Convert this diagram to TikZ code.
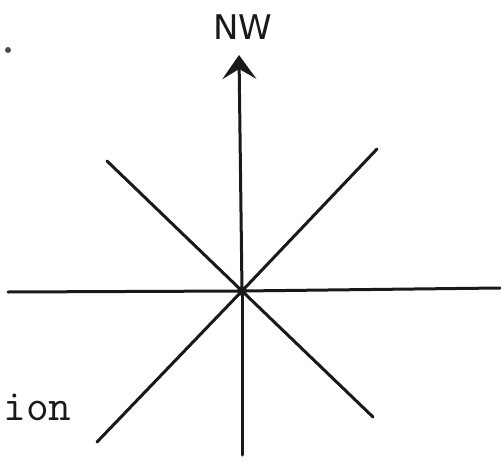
\documentclass[tikz,border=0pt]{standalone}
\usepackage{fontspec}
\setsansfont{DejaVu Sans}
\usetikzlibrary{arrows.meta, positioning}

\begin{document}
\begin{tikzpicture}[x=0.5pt, y=-0.5pt, every node/.style={inner sep=0pt}]
    \tikzset{ray/.style={line width=1.5pt, black!90, line cap=round},
             hand/.style={font=\sffamily\fontsize{17}{17}\selectfont, black!90},
             typed/.style={font=\ttfamily\fontsize{22}{22}\selectfont, black!90}}
    \useasboundingbox (0,0) rectangle (501,464);
    \coordinate (c) at (242,291);
    \coordinate (n) at (239,55);
    \coordinate (s) at (242,455);
    \coordinate (w) at (8,292);
    \coordinate (e) at (500,288);
    \coordinate (nw) at (107,161);
    \coordinate (se) at (373,417);
    \coordinate (ne) at (377,149);
    \coordinate (sw) at (97,442);
    \foreach \a in {s, w, e, nw, se, ne, sw}
      \draw[ray] (c) -- (\a);
    \draw[ray, -{Stealth[length=12pt, width=17pt, inset=5pt]}] (c) -- (n);
    \fill[black!90] (c) circle (5);
    \node[hand] (lbl) at (243,27) {NW};
    \node[typed, anchor=west] (ion) at (3,407) {ion};
    \fill[black!70] (8,50) circle (3);
\end{tikzpicture}
\end{document}
